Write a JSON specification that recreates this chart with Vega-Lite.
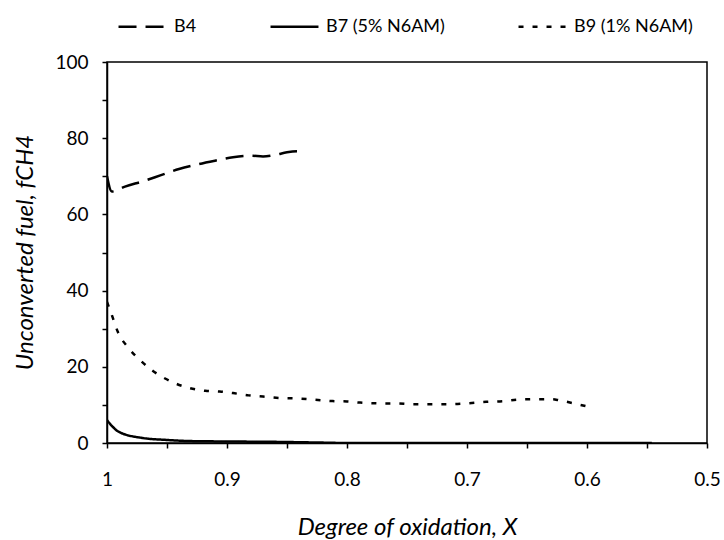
{
  "$schema": "https://vega.github.io/schema/vega-lite/v6.json",
  "width": 600,
  "height": 381,
  "autosize": {"type": "none"},
  "padding": {"left": 107, "top": 62, "right": 17, "bottom": 97},
  "background": "white",
  "config": {
    "font": "Lato",
    "view": {"stroke": "black", "strokeWidth": 1.5},
    "axis": {
      "grid": false,
      "domainColor": "black",
      "domainWidth": 1.5,
      "tickColor": "black",
      "tickWidth": 1.5,
      "tickSize": 5,
      "labelColor": "black",
      "labelFont": "Lato",
      "labelFontSize": 19,
      "titleColor": "black",
      "titleFont": "Lato",
      "titleFontSize": 24,
      "titleFontWeight": "normal",
      "titleFontStyle": "italic"
    }
  },
  "data": {
    "values": [
      {"series": "B4", "x": 1.0, "y": 70},
      {"series": "B4", "x": 0.996, "y": 66},
      {"series": "B4", "x": 0.985, "y": 67.3},
      {"series": "B4", "x": 0.97, "y": 68.7},
      {"series": "B4", "x": 0.955, "y": 70.3},
      {"series": "B4", "x": 0.94, "y": 71.9},
      {"series": "B4", "x": 0.925, "y": 73.1},
      {"series": "B4", "x": 0.91, "y": 74.1},
      {"series": "B4", "x": 0.895, "y": 75.0},
      {"series": "B4", "x": 0.88, "y": 75.4},
      {"series": "B4", "x": 0.87, "y": 75.2},
      {"series": "B4", "x": 0.86, "y": 75.6},
      {"series": "B4", "x": 0.85, "y": 76.3},
      {"series": "B4", "x": 0.84, "y": 76.6},
      {"series": "B4", "x": 0.836, "y": 76.2},
      {"series": "B7 (5% N6AM)", "x": 1.0, "y": 6.0},
      {"series": "B7 (5% N6AM)", "x": 0.99, "y": 2.9},
      {"series": "B7 (5% N6AM)", "x": 0.97, "y": 1.3},
      {"series": "B7 (5% N6AM)", "x": 0.95, "y": 0.8},
      {"series": "B7 (5% N6AM)", "x": 0.93, "y": 0.5},
      {"series": "B7 (5% N6AM)", "x": 0.9, "y": 0.4},
      {"series": "B7 (5% N6AM)", "x": 0.86, "y": 0.3},
      {"series": "B7 (5% N6AM)", "x": 0.82, "y": 0.1},
      {"series": "B7 (5% N6AM)", "x": 0.8, "y": 0},
      {"series": "B7 (5% N6AM)", "x": 0.546, "y": 0},
      {"series": "B9 (1% N6AM)", "x": 1.0, "y": 37},
      {"series": "B9 (1% N6AM)", "x": 0.996, "y": 33.6},
      {"series": "B9 (1% N6AM)", "x": 0.991, "y": 29.2},
      {"series": "B9 (1% N6AM)", "x": 0.982, "y": 24.9},
      {"series": "B9 (1% N6AM)", "x": 0.9725, "y": 21.8},
      {"series": "B9 (1% N6AM)", "x": 0.963, "y": 19.2},
      {"series": "B9 (1% N6AM)", "x": 0.952, "y": 17.0},
      {"series": "B9 (1% N6AM)", "x": 0.942, "y": 15.5},
      {"series": "B9 (1% N6AM)", "x": 0.931, "y": 14.4},
      {"series": "B9 (1% N6AM)", "x": 0.918, "y": 13.7},
      {"series": "B9 (1% N6AM)", "x": 0.906, "y": 13.5},
      {"series": "B9 (1% N6AM)", "x": 0.895, "y": 13.1},
      {"series": "B9 (1% N6AM)", "x": 0.882, "y": 12.5},
      {"series": "B9 (1% N6AM)", "x": 0.87, "y": 12.2},
      {"series": "B9 (1% N6AM)", "x": 0.855, "y": 11.8},
      {"series": "B9 (1% N6AM)", "x": 0.843, "y": 11.7},
      {"series": "B9 (1% N6AM)", "x": 0.828, "y": 11.4},
      {"series": "B9 (1% N6AM)", "x": 0.812, "y": 11.0},
      {"series": "B9 (1% N6AM)", "x": 0.8, "y": 10.9},
      {"series": "B9 (1% N6AM)", "x": 0.789, "y": 10.6},
      {"series": "B9 (1% N6AM)", "x": 0.771, "y": 10.4},
      {"series": "B9 (1% N6AM)", "x": 0.758, "y": 10.4},
      {"series": "B9 (1% N6AM)", "x": 0.746, "y": 10.2},
      {"series": "B9 (1% N6AM)", "x": 0.725, "y": 10.2},
      {"series": "B9 (1% N6AM)", "x": 0.713, "y": 10.2},
      {"series": "B9 (1% N6AM)", "x": 0.7, "y": 10.4},
      {"series": "B9 (1% N6AM)", "x": 0.684, "y": 10.8},
      {"series": "B9 (1% N6AM)", "x": 0.67, "y": 11.0},
      {"series": "B9 (1% N6AM)", "x": 0.657, "y": 11.4},
      {"series": "B9 (1% N6AM)", "x": 0.642, "y": 11.5},
      {"series": "B9 (1% N6AM)", "x": 0.629, "y": 11.5},
      {"series": "B9 (1% N6AM)", "x": 0.623, "y": 11.2},
      {"series": "B9 (1% N6AM)", "x": 0.611, "y": 10.4},
      {"series": "B9 (1% N6AM)", "x": 0.6, "y": 9.6}
    ]
  },
  "mark": {"type": "line", "color": "black", "strokeWidth": 2.5, "interpolate": "monotone", "clip": true},
  "encoding": {
    "x": {
      "field": "x",
      "type": "quantitative",
      "scale": {"domain": [0.5, 1], "reverse": true, "nice": false, "zero": false},
      "axis": {
        "title": "Degree of oxidation, X",
        "values": [0.5, 0.55, 0.6, 0.65, 0.7, 0.75, 0.8, 0.85, 0.9, 0.95, 1.0],
        "labelExpr": "abs(datum.value * 10 - round(datum.value * 10)) < 0.001 ? format(datum.value, '.1~f') : ''",
        "labelPadding": 22,
        "labelFlush": false,
        "labelOverlap": false,
        "titleBaseline": "middle",
        "titleY": 84
      }
    },
    "y": {
      "field": "y",
      "type": "quantitative",
      "scale": {"domain": [0, 100], "nice": false},
      "axis": {
        "title": "Unconverted fuel, fCH4",
        "values": [0, 10, 20, 30, 40, 50, 60, 70, 80, 90, 100],
        "labelExpr": "datum.value % 20 == 0 ? datum.value : ''",
        "labelPadding": 14,
        "labelFlush": false,
        "labelOverlap": false,
        "titleBaseline": "middle",
        "titleX": -82,
        "titleY": 190
      }
    },
    "strokeDash": {
      "field": "series",
      "type": "nominal",
      "scale": {
        "domain": ["B4", "B7 (5% N6AM)", "B9 (1% N6AM)"],
        "range": [[18, 9], [1, 0], [5, 9]]
      },
      "legend": {
        "title": null,
        "orient": "none",
        "direction": "horizontal",
        "legendX": 10,
        "legendY": -61,
        "padding": 0,
        "symbolType": "stroke",
        "symbolSize": 2300,
        "symbolStrokeWidth": 2.5,
        "symbolStrokeColor": "black",
        "labelFont": "Lato",
        "labelFontSize": 18,
        "labelColor": "black",
        "labelOffset": 6,
        "columnPadding": 68
      }
    }
  }
}
